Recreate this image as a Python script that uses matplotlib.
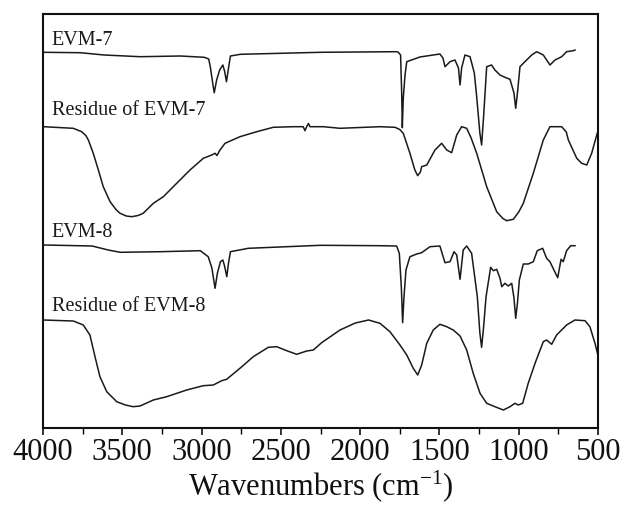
import matplotlib
matplotlib.use("Agg")
import matplotlib.pyplot as plt
from matplotlib.ticker import MultipleLocator

plt.rcParams['font.family'] = ['Liberation Serif', 'DejaVu Serif']
plt.rcParams['mathtext.fontset'] = 'custom'
plt.rcParams['mathtext.rm'] = 'Liberation Serif'
plt.rcParams['mathtext.it'] = 'Liberation Serif:italic'

# ---- data (wavenumber, offset transmittance in arbitrary units) ----
evm7_w = [3993, 3766, 3614, 3387, 3134, 2983, 2955, 2945, 2930, 2920, 2905, 2886, 2866,
          2855, 2843, 2830, 2818, 2755, 2250, 1770, 1761, 1745, 1738, 1734, 1728, 1717,
          1706, 1623, 1497, 1478, 1465, 1433, 1402, 1380, 1370, 1360, 1339, 1307, 1280,
          1265, 1245, 1234, 1222, 1202, 1171, 1150, 1118, 1087, 1055, 1030, 1019, 1008,
          992, 961, 918, 887, 845, 803, 771, 729, 698, 656, 645]
evm7_t = [375.7, 375.3, 373, 371.3, 372, 370.7, 369, 361.3, 345, 335.3, 348, 358, 363,
          357, 346.3, 360, 372, 373.7, 375.7, 376.3, 376, 373, 335, 300.3, 330, 353,
          366.3, 371, 374, 370, 361.3, 366.3, 368, 360, 343, 360, 373, 371.3, 355,
          331.3, 295, 283, 310, 361.3, 363, 358, 353, 350.7, 348.7, 335, 319.7, 335,
          361.3, 366.3, 373, 376.3, 373, 363, 368, 371.3, 376.3, 377.3, 378]

res7_w = [3998, 3809, 3756, 3730, 3714, 3683, 3651, 3620, 3577, 3540, 3514, 3475, 3441,
          3400, 3368, 3304, 3241, 3157, 3073, 2989, 2936, 2915, 2903, 2884, 2852, 2758,
          2652, 2548, 2422, 2359, 2348, 2335, 2326, 2316, 2232, 2127, 1875, 1780, 1750,
          1728, 1686, 1655, 1637, 1620, 1612, 1580, 1528, 1486, 1454, 1423, 1391, 1360,
          1328, 1300, 1265, 1202, 1139, 1100, 1076, 1034, 1000, 971, 908, 845, 803, 729,
          700, 687, 634, 603, 571, 540, 505]
res7_t = [301.3, 299.7, 296.3, 292.5, 288, 274.7, 258, 241.3, 226.3, 218.5, 214.7, 212,
          211.3, 212.5, 214.7, 224.7, 231.3, 244.7, 258, 269.7, 273, 274.7, 272.5, 278,
          284.7, 291.3, 296.3, 300.7, 301.3, 301.3, 297.3, 302, 304.5, 301.3, 301.3,
          299.7, 301.3, 300.7, 298.5, 294.7, 274.7, 258, 252.3, 256, 261.3, 263, 278,
          284.7, 278, 275.3, 293, 301.3, 299.7, 290, 274.7, 241.3, 216.3, 209.5, 207.3,
          208.7, 216, 224.7, 254.7, 288, 301.3, 301.3, 296, 288, 269.7, 264.7, 263,
          274.7, 294.7]

evm8_w = [3993, 3690, 3589, 3513, 3260, 3008, 2958, 2935, 2915, 2900, 2881, 2866, 2855,
          2841, 2830, 2818, 2705, 2250, 1875, 1770, 1753, 1740, 1732, 1724, 1711, 1686,
          1643, 1612, 1560, 1497, 1465, 1433, 1408, 1391, 1370, 1350, 1328, 1297, 1261,
          1245, 1234, 1222, 1206, 1177, 1160, 1139, 1118, 1107, 1087, 1066, 1044, 1030,
          1019, 1008, 996, 971, 940, 908, 883, 849, 824, 803, 778, 754, 733, 719, 698,
          672, 645]
evm8_t = [183, 182, 178, 175.7, 176.3, 177.3, 171.3, 160, 139.7, 155, 166.3, 168, 162,
          151.3, 165, 176.3, 179.7, 182.7, 182.3, 182, 174.7, 140, 105.3, 130, 158,
          171.3, 174, 175.3, 181.3, 182, 165.3, 166.3, 176.3, 173, 148.7, 178, 182,
          174.7, 131.3, 95, 80.7, 100, 131.3, 160.7, 157.3, 158.7, 149.7, 141.3, 144.7,
          142, 144.7, 130, 109.7, 125, 148, 164, 164, 166.3, 177.3, 179.7, 169.7, 166.3,
          158, 150.3, 168.7, 166.3, 177.3, 182.3, 182.3]

res8_w = [3998, 3809, 3746, 3704, 3672, 3641, 3598, 3535, 3480, 3431, 3388, 3304, 3220,
          3094, 2989, 2926, 2873, 2842, 2758, 2674, 2579, 2526, 2463, 2400, 2337, 2295,
          2243, 2127, 2030, 1947, 1875, 1812, 1749, 1706, 1665, 1637, 1612, 1580, 1539,
          1497, 1454, 1413, 1370, 1328, 1287, 1244, 1202, 1150, 1097, 1055, 1024, 1003,
          975, 940, 897, 845, 824, 792, 761, 698, 645, 582, 551, 519, 498]
res8_t = [108, 107, 103, 93, 71.3, 51.3, 36.3, 26.3, 23, 21.3, 22, 28, 31.3, 38, 42.3, 43,
          47.3, 48.7, 59.7, 71.3, 80.7, 81.3, 77.3, 73.7, 77, 78, 85.3, 98, 105, 108,
          104.7, 96.3, 83, 73, 59.7, 53, 63, 84.7, 98, 103.7, 101.3, 98, 92, 78, 54.7,
          34.7, 24.7, 21.3, 18, 21.3, 24.7, 23, 24.7, 44.7, 64.7, 86.3, 88, 83.7, 93, 103,
          108, 107.3, 101.3, 84.7, 71.3]

labels = ["EVM-7", "Residue of EVM-7", "EVM-8", "Residue of EVM-8"]
label_y = [383, 313, 191, 117]

x_ticks = [4000, 3500, 3000, 2500, 2000, 1500, 1000, 500]

fig = plt.figure(figsize=(6.25, 5.08), dpi=100)
ax = fig.add_axes([43/625, 80/508, 555/625, 414/508])

lc = '#1a1a1a'
for w, t in [(evm7_w, evm7_t), (res7_w, res7_t), (evm8_w, evm8_t), (res8_w, res8_t)]:
    ax.plot(w, t, color=lc, lw=1.1, solid_joinstyle='round')

ax.set_xlim(4000, 500)
ax.set_ylim(0, 414)
ax.set_xticks(x_ticks)
ax.set_xticklabels([str(v) for v in x_ticks])
ax.xaxis.set_minor_locator(MultipleLocator(250))
ax.set_yticks([])
ax.tick_params(axis='x', which='major', direction='out', length=5, width=1.2,
               labelsize=22, pad=2, colors='#111111')
ax.tick_params(axis='x', which='minor', direction='out', length=4, width=1.0)
for s in ax.spines.values():
    s.set_linewidth(1.5)
    s.set_color('#111111')

for lab, y in zip(labels, label_y):
    ax.text(3945, y, lab, fontsize=14.5, color='#1a1a1a', ha='left', va='baseline')

ax.set_xlabel('Wavenumbers (cm$^{-1}$)', fontsize=22, labelpad=1, color='#111111')

fig.savefig('out.png', dpi=100)
